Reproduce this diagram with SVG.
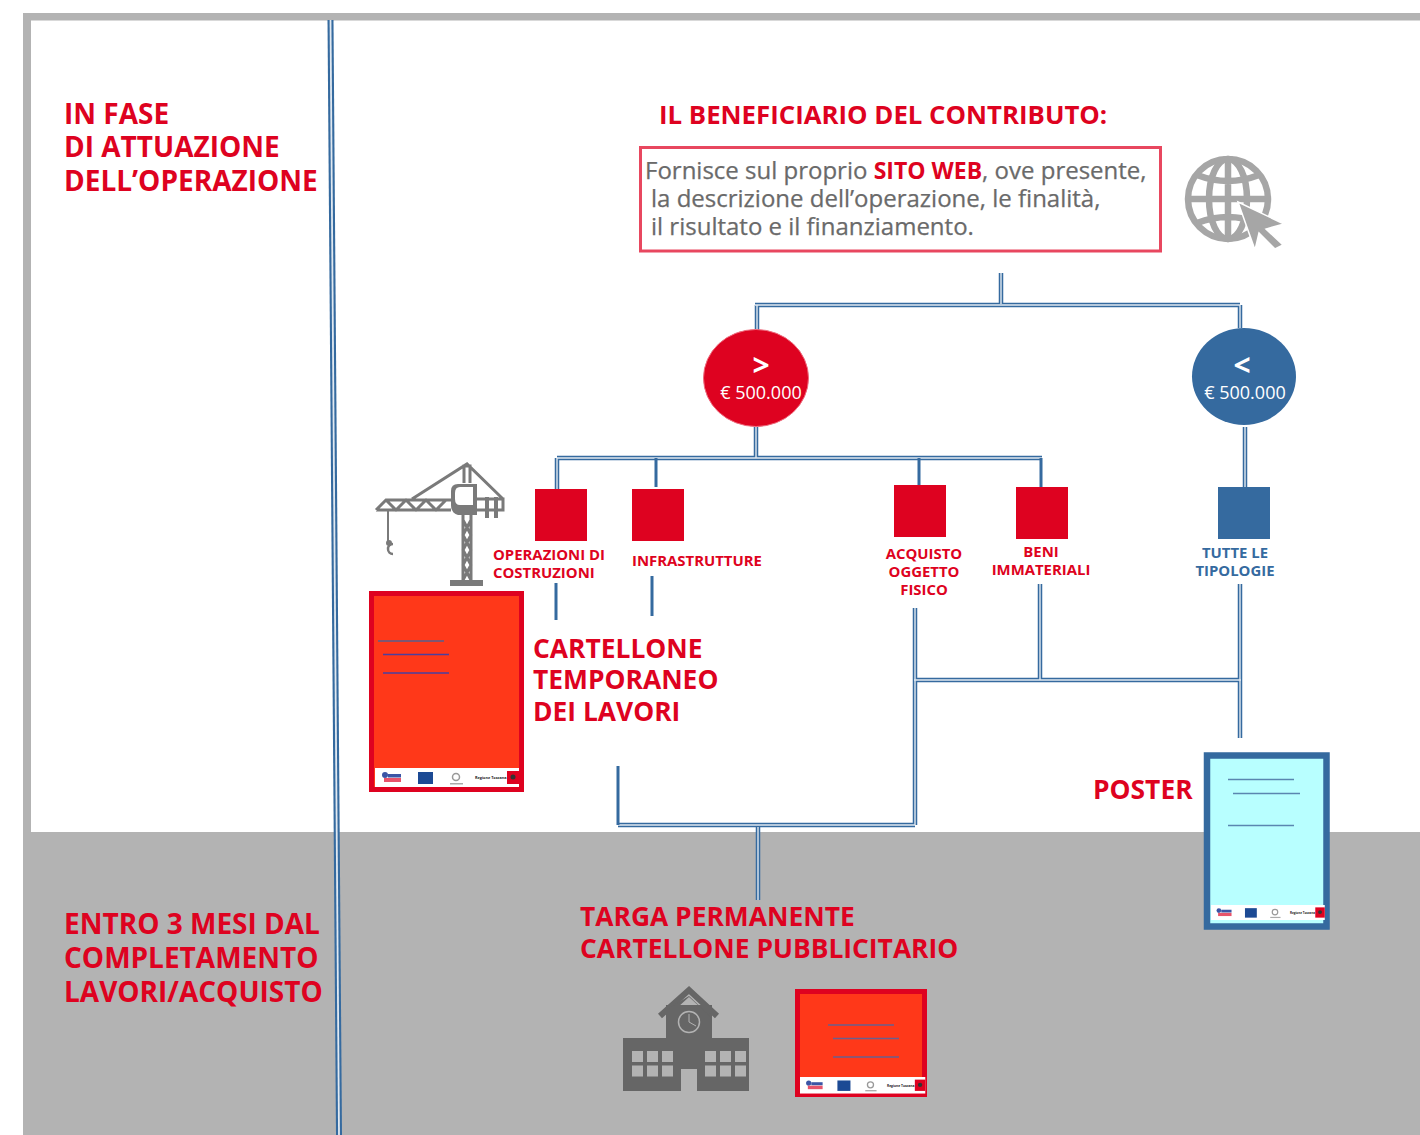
<svg xmlns="http://www.w3.org/2000/svg" width="1420" height="1135" viewBox="0 0 1420 1135">
<style>
text{font-family:"Open Sans","Liberation Sans",sans-serif}
.h{font-size:28px;font-weight:700;fill:#de0220}
.h2{font-size:26.400px;font-weight:700;fill:#de0220}
.s{font-size:14.900px;font-weight:700;fill:#de0220}
.b{font-size:14.900px;font-weight:700;fill:#356a9f}
.t{font-size:24px;fill:#6a6a6a;stroke:#6a6a6a;stroke-width:.25}
.w{fill:#fff;text-anchor:middle}
.o{fill:none;stroke:#356a9f;stroke-width:4.500}
.i{fill:none;stroke:#fff;stroke-width:1.400;opacity:.85}
.l{stroke-width:1.500;fill:none}
.g{fill:none;stroke:#7a7a7a}
</style>
<defs>
<path id="dbl" d="M1001 273V304M755 305H1240M757 305V330M1240 305V328M756 427V458M557 458H1042M557 458V489M1245 427V487M915 608V825M1040 584V680M1240 584V738M914 680H1241M618 825H915M758 827V900"/>
<g id="strip">
<rect width="144" height="19" fill="#fff"/>
<circle cx="10" cy="7" r="3" fill="#3b55a5"/><rect x="13" y="6" width="13" height="3.500" fill="#3b55a5"/><rect x="9" y="10" width="17" height="4" fill="#e8536a"/>
<rect x="43" y="4" width="15" height="12" fill="#1c4a94"/>
<circle cx="81" cy="9" r="3.500" fill="none" stroke="#999" stroke-width="1.500"/><rect x="75" y="15" width="13" height="1.500" fill="#aaa"/>
<text x="100" y="11" font-size="3.800" font-weight="700" fill="#222">Regione Toscana</text>
<rect x="132" y="3" width="12" height="13" fill="#de0220"/><circle cx="138" cy="9" r="2.500" fill="#333"/>
</g>
</defs>
<rect width="1420" height="1135" fill="#fff"/>
<g id="background">
<rect x="23" y="832" width="1397" height="303" fill="#b3b3b3"/>
<rect x="23" y="13" width="1397" height="7.500" fill="#b3b3b3"/>
<rect x="23" y="13" width="8" height="1122" fill="#b3b3b3"/>
</g>
<g id="connectors">
<use href="#dbl" class="o"/>
<use href="#dbl" class="i"/>
<path d="M330.500 20L339 1135" fill="none" stroke="#356a9f" stroke-width="6"/>
<path d="M330.500 20L339 1135" fill="none" stroke="#fff" stroke-width="1.800" opacity=".85"/>
<path d="M656 458V487M919 458V485M1041 458V487M556 583V620M652 576V616M618 766V825" fill="none" stroke="#356a9f" stroke-width="3"/>
</g>
<g id="label-attuazione"><text class="h"><tspan x="64" y="124">IN FASE</tspan><tspan x="64" y="157">DI ATTUAZIONE</tspan><tspan x="64" y="191">DELL’OPERAZIONE</tspan></text></g>
<g id="label-completamento"><text class="h"><tspan x="64" y="934">ENTRO 3 MESI DAL</tspan><tspan x="64" y="968">COMPLETAMENTO</tspan><tspan x="64" y="1002">LAVORI/ACQUISTO</tspan></text></g>
<g id="label-beneficiario"><text class="h2" x="659" y="124" style="font-size:25.800px">IL BENEFICIARIO DEL CONTRIBUTO:</text></g>
<g id="box-sito">
<rect x="640.500" y="147.500" width="520" height="103.500" fill="#fff" stroke="#e8475f" stroke-width="3"/>
<text class="t"><tspan x="645" y="179">Fornisce sul proprio </tspan><tspan font-weight="700" fill="#de0220" stroke="none" style="font-size:23px">SITO WEB</tspan><tspan>, ove presente,</tspan><tspan x="651" y="207">la descrizione dell’operazione, le finalità,</tspan><tspan x="651" y="235">il risultato e il finanziamento.</tspan></text>
</g>
<g id="icon-web">
<g fill="none" stroke="#a6a6a6" stroke-width="6.500">
<circle cx="1228" cy="199" r="40"/>
<ellipse cx="1228" cy="199" rx="19" ry="40"/>
<path d="M1228 159V239M1188 199H1268M1197 175Q1228 187 1259 175M1197 223Q1228 211 1259 223"/>
</g>
<path d="M1238 202L1284 224L1266 229L1283 245L1275 249L1259 233L1255 250Z" fill="#a6a6a6" stroke="#fff" stroke-width="1.500"/>
</g>
<g id="node-maggiore">
<ellipse cx="756" cy="378" rx="52.500" ry="48.500" fill="#de0220" stroke="#ee6a7c"/>
<text class="w" x="761" y="376" font-size="30" font-weight="700">&gt;</text>
<text class="w" x="761" y="399" font-size="18" font-weight="500">€ 500.000</text>
</g>
<g id="node-minore">
<ellipse cx="1244" cy="376.500" rx="52" ry="48.500" fill="#356a9f"/>
<text class="w" x="1242" y="376" font-size="30" font-weight="700">&lt;</text>
<text class="w" x="1245" y="399" font-size="18" font-weight="500">€ 500.000</text>
</g>
<g id="node-costruzioni"><rect x="535" y="489" width="52" height="52" fill="#de0220"/><text class="s"><tspan x="493" y="560">OPERAZIONI DI</tspan><tspan x="493" y="578">COSTRUZIONI</tspan></text></g>
<g id="node-infrastrutture"><rect x="632" y="489" width="52" height="52" fill="#de0220"/><text class="s" x="632" y="566">INFRASTRUTTURE</text></g>
<g id="node-acquisto"><rect x="894" y="485" width="52" height="52" fill="#de0220"/><text class="s" text-anchor="middle"><tspan x="924" y="559">ACQUISTO</tspan><tspan x="924" y="577">OGGETTO</tspan><tspan x="924" y="595">FISICO</tspan></text></g>
<g id="node-immateriali"><rect x="1016" y="487" width="52" height="52" fill="#de0220"/><text class="s" text-anchor="middle"><tspan x="1041" y="557">BENI</tspan><tspan x="1041" y="575">IMMATERIALI</tspan></text></g>
<g id="node-tipologie"><rect x="1218" y="487" width="52" height="52" fill="#356a9f"/><text class="b" text-anchor="middle"><tspan x="1235" y="558">TUTTE LE</tspan><tspan x="1235" y="576">TIPOLOGIE</tspan></text></g>
<g id="icon-gru">
<g class="g" stroke-width="3">
<path d="M376 510L386 500H451M376 510H451M386 500L396 510L406 500L416 510L426 500L436 510L446 500M412 499L467 464L503 499M477 499H503V510H477M464 483V466H470V483" />
<path d="M463 515V581M471 515V581M463 520L471 535L463 550L471 565L463 580M471 520L463 535L471 550L463 565L471 580"/>
<path d="M487 497V518M496 497V518" stroke-width="4"/>
<path d="M388 510V541" stroke-width="2"/>
<path d="M393 544A5 5 0 1 0 393 554" stroke-width="2.500"/>
<circle cx="389" cy="543" r="1.500"/>
</g>
<path d="M451 491Q451 484 458 484H477V515H458Q451 513 451 505Z" fill="#7a7a7a"/>
<path d="M455 493Q455 487 460 487H473V505H460Q455 505 455 499Z" fill="#fff"/>
<rect x="450" y="580" width="33" height="6" fill="#7a7a7a"/>
</g>
<g id="node-cartellone">
<rect x="371.500" y="593.500" width="150" height="196" fill="#ff3819" stroke="#de0220" stroke-width="5"/>
<use href="#strip" x="375" y="768"/>
<g class="l"><path d="M378 641H444" stroke="#55608f"/><path d="M383 654.500H449M383 673H449" stroke="#4a3fa0"/></g>
<text class="h2"><tspan x="533" y="658">CARTELLONE</tspan><tspan x="533" y="689">TEMPORANEO</tspan><tspan x="533" y="721">DEI LAVORI</tspan></text>
</g>
<g id="node-poster">
<rect x="1207" y="755.500" width="119.500" height="171" fill="#b8ffff" stroke="#356a9f" stroke-width="6.500"/>
<use href="#strip" transform="translate(1211 905) scale(.79)"/>
<g class="l" stroke="#5a86b0"><path d="M1228 779.500H1294M1233 793.500H1300M1228 825.500H1294"/></g>
<text class="h2" x="1093" y="799">POSTER</text>
</g>
<g id="node-targa"><text class="h2"><tspan x="580" y="926">TARGA PERMANENTE</tspan><tspan x="580" y="958">CARTELLONE PUBBLICITARIO</tspan></text></g>
<g id="icon-scuola">
<path d="M623 1038H666V1005H712V1038H749V1091H697V1069H681V1091H623Z" fill="#666"/>
<path d="M660 1016L689 990L717 1016" fill="none" stroke="#666" stroke-width="6"/>
<path d="M689 997L666 1018V1010L689 996L712 1018Z" fill="#666"/>
<circle cx="689" cy="1022" r="10.500" fill="#666" stroke="#b3b3b3" stroke-width="1.500"/>
<path d="M689 1014V1022L696 1026" fill="none" stroke="#b3b3b3"/>
<g fill="#b3b3b3">
<rect x="632" y="1051" width="11" height="11"/><rect x="647" y="1051" width="11" height="11"/><rect x="662" y="1051" width="11" height="11"/>
<rect x="632" y="1065.500" width="11" height="11"/><rect x="647" y="1065.500" width="11" height="11"/><rect x="662" y="1065.500" width="11" height="11"/>
<rect x="705" y="1051" width="11" height="11"/><rect x="720" y="1051" width="11" height="11"/><rect x="735" y="1051" width="11" height="11"/>
<rect x="705" y="1065.500" width="11" height="11"/><rect x="720" y="1065.500" width="11" height="11"/><rect x="735" y="1065.500" width="11" height="11"/>
</g>
</g>
<g id="node-pubblicitario">
<rect x="797.500" y="991.500" width="127" height="103" fill="#ff3819" stroke="#de0220" stroke-width="5"/>
<use href="#strip" transform="translate(800 1077) scale(.87)"/>
<g class="l" stroke="#6a5f8f"><path d="M828 1025H894M833 1038.500H899M833 1057H899"/></g>
</g>
</svg>
